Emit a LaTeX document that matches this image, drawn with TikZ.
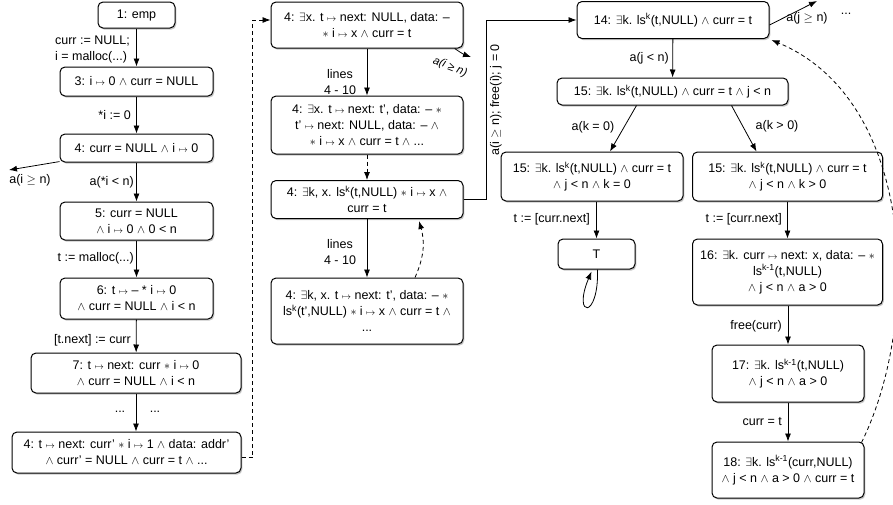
\documentclass[tikz,border=0pt]{standalone}
\usepackage{fontspec}
\setmainfont{Liberation Sans}
\usetikzlibrary{arrows.meta,shadows,calc}
\newcommand\xmt{\ensuremath{\scriptstyle\mapsto}}
\newcommand\xand{\ensuremath{\wedge}}
\newcommand\xex{\ensuremath{\exists}}
\newcommand\xst{\ensuremath{\ast}}
\newcommand\xge{\ensuremath{\geq}}
\begin{document}
\begin{tikzpicture}[x=1pt,y=-1pt,
  every node/.style={font=\fontsize{12.5}{16}\selectfont},
  box/.style={draw, rounded corners=5pt, fill=white, line width=1pt, align=center, inner sep=0pt,
    drop shadow={shadow xshift=1.3pt, shadow yshift=-1.6pt, opacity=0.45}},
  arr/.style={-{Latex[length=8pt,width=6pt]}, line width=0.8pt},
  dasharr/.style={-{Latex[length=8pt,width=6pt]}, line width=0.8pt, dash pattern=on 4pt off 3pt},
  lbl/.style={inner sep=1pt, align=left}]
\useasboundingbox (0,0) rectangle (893,504);

% left column
\node[box, minimum width=77, minimum height=26] (n1) at (136.5,15) {1: emp};
\node[box, minimum width=153, minimum height=29] (n3) at (136.5,81.5) {3: i \xmt{} 0 \xand{} curr = NULL};
\node[box, minimum width=153, minimum height=28] (n4) at (136.5,148) {4: curr = NULL \xand{} i \xmt{} 0};
\node[box, minimum width=153, minimum height=38] (n5) at (136.5,221) {5: curr = NULL\\ \xand{} i \xmt{} 0 \xand{} 0 < n};
\node[box, minimum width=153, minimum height=41] (n6) at (136.5,298.5) {6: t \xmt{} -- * i \xmt{} 0\\ \xand{} curr = NULL \xand{} i < n};
\node[box, minimum width=210, minimum height=40] (n7) at (136,373) {7: t \xmt{} next: curr \xst{} i \xmt{} 0\\ \xand{} curr = NULL \xand{} i < n};
\node[box, minimum width=229, minimum height=41] (n4b) at (126.5,452.5) {4: t \xmt{} next: curr' \xst{} i \xmt{} 1 \xand{} data: addr'\\ \xand{} curr' = NULL \xand{} curr = t \xand{} ...};

\draw[arr] (n1) -- (n3);
\draw[arr] (n3) -- (n4);
\draw[arr] (n4) -- (n5);
\draw[arr] (n5) -- (n6);
\draw[arr] (n6) -- (n7);
\draw[arr] (n7.south) -- (n7.south |- n4b.north);
\coordinate (ige) at (9,170);
\draw[arr] (n4.190) -- (ige);

\node[lbl, anchor=east] (l1) at (131,49) {curr := NULL;\\ i = malloc(...)};
\node[lbl, anchor=east] (l2) at (132,115) {*i := 0};
\node[lbl] (l3) at (30,180) {a(i \xge{} n)};
\node[lbl, anchor=east] (l4) at (135,182) {a(*i < n)};
\node[lbl, anchor=east] (l5) at (135,258) {t := malloc(...)};
\node[lbl, anchor=east] (l6) at (132,340) {[t.next] := curr};
\node[lbl] (l7) at (120,412) {...};
\node[lbl] (l8) at (155,412) {...};

% middle column
\node[box, minimum width=192, minimum height=46] (A) at (367,25) {4: \xex{}x. t \xmt{} next: NULL, data: --\\ \xst{} i \xmt{} x \xand{} curr = t};
\node[box, minimum width=192, minimum height=58] (B) at (367,125) {4: \xex{}x. t \xmt{} next: t', data: -- \xst{}\\ t' \xmt{} next: NULL, data: -- \xand{}\\ \xst{} i \xmt{} x \xand{} curr = t \xand{} ...};
\node[box, minimum width=192, minimum height=38] (C) at (367,199.5) {4: \xex{}k, x. ls\textsuperscript{k}(t,NULL) \xst{} i \xmt{} x \xand{}\\ curr = t};
\node[box, minimum width=192, minimum height=66] (D) at (367,311) {4: \xex{}k, x. t \xmt{} next: t', data: -- \xst{}\\ ls\textsuperscript{k}(t',NULL) \xst{} i \xmt{} x \xand{} curr = t \xand{}\\ ...};

\draw[dasharr] ($(n4b.east)+(0,5)$) -- ++(11,0) |- ($(A.west)+(0,-5)$);
\draw[arr] (A) -- (B);
\draw[dasharr] (B) -- (C);
\draw[arr] (C) -- (D);
\draw[dasharr] ($(D.north)+(48,0)$) to[bend right=20] ($(C.south)+(52,2)$);
\coordinate (aig) at (471,57);
\draw[arr] (A.-15) to[bend right=8] (aig);
\node[lbl, rotate=-22, font=\itshape\fontsize{11.5}{14}\selectfont] (l9) at (450,67) {a(i ≥ n)};
\node[lbl, align=center] (l10) at (340,82) {lines\\ 4 - 10};
\node[lbl, align=center] (l11) at (340,252) {lines\\ 4 - 10};

% right section
\node[box, minimum width=192, minimum height=37] (N14) at (673,20) {14: \xex{}k. ls\textsuperscript{k}(t,NULL) \xand{} curr = t};
\node[box, minimum width=231, minimum height=27] (N15) at (672.5,91.5) {15: \xex{}k. ls\textsuperscript{k}(t,NULL) \xand{} curr = t \xand{} j < n};
\node[box, minimum width=182, minimum height=49] (N15a) at (592,176.5) {15: \xex{}k. ls\textsuperscript{k}(t,NULL) \xand{} curr = t\\ \xand{} j < n \xand{} k = 0};
\node[box, minimum width=190, minimum height=49] (N15b) at (787.5,176.5) {15: \xex{}k. ls\textsuperscript{k}(t,NULL) \xand{} curr = t\\ \xand{} j < n \xand{} k > 0};
\node[box, minimum width=77, minimum height=30] (T) at (596.5,254) {T};
\node[box, minimum width=190, minimum height=66] (N16) at (787.5,272) {16: \xex{}k. curr \xmt{} next: x, data: -- \xst{}\\ ls\textsuperscript{k-1}(t,NULL)\\ \xand{} j < n \xand{} a > 0};
\node[box, minimum width=152, minimum height=57] (N17) at (788,373.5) {17: \xex{}k. ls\textsuperscript{k-1}(t,NULL)\\ \xand{} j < n \xand{} a > 0};
\node[box, minimum width=152, minimum height=56] (N18) at (788,470) {18: \xex{}k. ls\textsuperscript{k-1}(curr,NULL)\\ \xand{} j < n \xand{} a > 0 \xand{} curr = t};

\draw[arr] (C.east) -- ++(23,0) |- (N14.west);
\node[lbl, rotate=90] (l12) at (496,100) {a(i \xge{} n); free(i); j = 0};
\draw[arr] (N14) -- (N15);
\draw[arr] ($(N15.south)+(-36,0)$) -- ($(N15a.north)+(18,0)$);
\draw[arr] ($(N15.south)+(59,0)$) -- ($(N15b.north)+(-31,0)$);
\draw[arr] (N15a.south -| T.north) -- (T.north);
\draw[arr] ($(T.south)+(1,0)$) .. controls (599,320) and (572,318) .. ($(T.south)+(-5,2)$);
\draw[arr] (N15b) -- (N16);
\draw[arr] (N16.south -| N17.north) -- (N17.north);
\draw[arr] (N17) -- (N18);
\coordinate (jge) at (817,1);
\draw[arr] ($(N14.east)+(0,5)$) -- (jge);
\draw[dasharr] ($(N18.north east)+(-3,1)$) .. controls (922,320) and (915,100) .. ($(N14.south east)+(2,1)$);

\node[lbl, anchor=east] (l13) at (670,58) {a(j < n)};
\node[lbl] (l14) at (593,127) {a(k = 0)};
\node[lbl] (l15) at (777,126) {a(k > 0)};
\node[lbl] (l16) at (807,18) {a(j \xge{} n)};
\node[lbl] (l17) at (846,14) {...};
\node[lbl, anchor=east] (l18) at (591,219) {t := [curr.next]};
\node[lbl, anchor=east] (l19) at (783,219) {t := [curr.next]};
\node[lbl, anchor=east] (l20) at (783,326) {free(curr)};
\node[lbl, anchor=east] (l21) at (783,422) {curr = t};
\end{tikzpicture}
\end{document}
